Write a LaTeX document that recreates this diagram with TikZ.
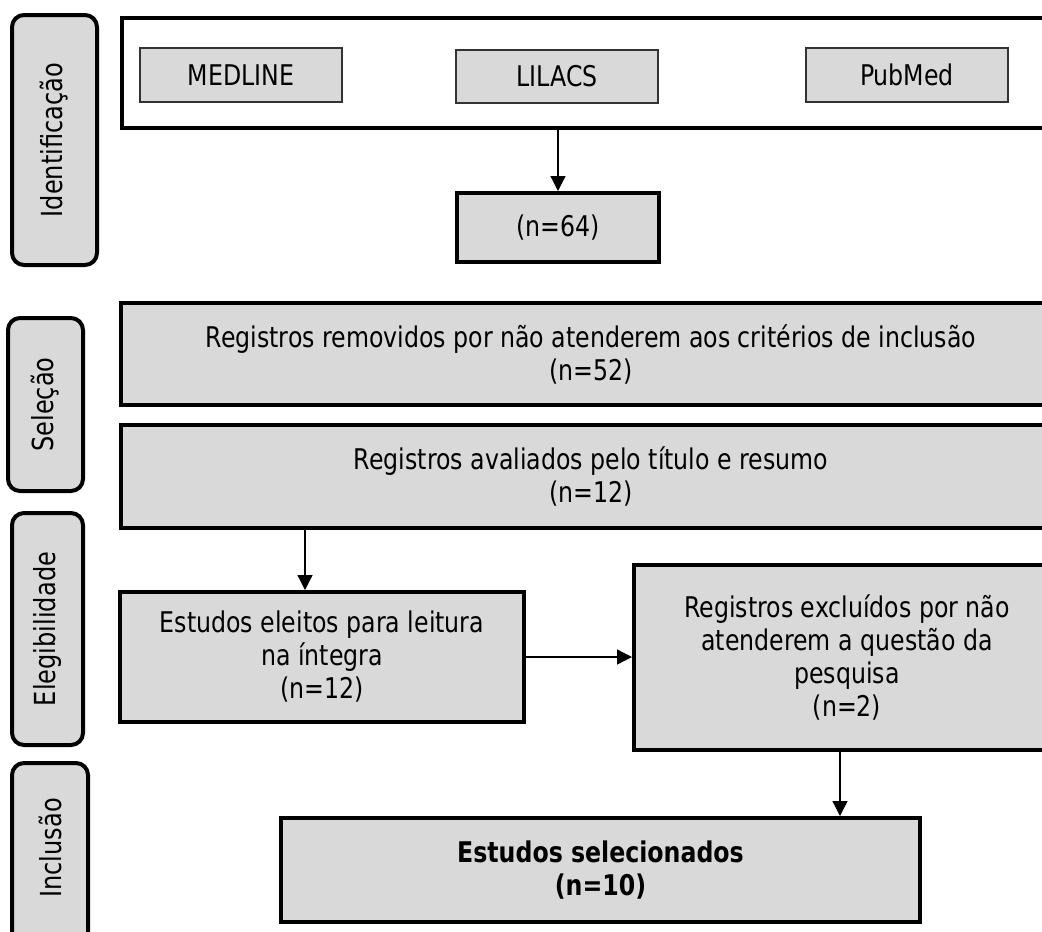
\documentclass[tikz,border=0pt]{standalone}
\usepackage{fontspec}
\setmainfont{DejaVu Sans}[FakeStretch=0.83]
\usetikzlibrary{arrows.meta}
\definecolor{boxgrey}{HTML}{D9D9D9}
\begin{document}
\begin{tikzpicture}[x=1pt,y=-1pt,
  bigbox/.style={draw=black,line width=4pt,fill=boxgrey,inner sep=0pt,align=center,font=\fontsize{28.5}{33}\selectfont},
  dbbox/.style={draw=black!80,line width=1.3pt,fill=boxgrey,inner sep=0pt,align=center,font=\fontsize{28.5}{33}\selectfont},
  sidebox/.style={draw=black,line width=4pt,fill=boxgrey,rounded corners=12pt,inner sep=0pt},
  sidetext/.style={rotate=90,font=\fontsize{29}{30}\selectfont},
  arr/.style={line width=1.3pt,-{Triangle[length=15pt,width=15pt]}}]
\useasboundingbox (0,0) rectangle (1042,932);
\fill[white] (0,0) rectangle (1042,932);
% side labels
\node[sidebox,minimum width=85,minimum height=250] (sid) at (54.5,140) {};
\node[sidetext] at (sid.center) {Identificação};
\node[sidebox,minimum width=75,minimum height=173] (ssel) at (45.5,404.5) {};
\node[sidetext] at (ssel.center) {Seleção};
\node[sidebox,minimum width=71,minimum height=232] (sele) at (47.5,629) {};
\node[sidetext] at (sele.center) {Elegibilidade};
\node[sidebox,minimum width=76,minimum height=200] (sinc) at (50,863) {};
\node[sidetext] at (50,848) {Inclusão};
% top container
\node[draw=black,line width=4pt,fill=white,minimum width=940,minimum height=110,inner sep=0pt] (top) at (592,73) {};
\node[dbbox,minimum width=202,minimum height=54] (medline) at (241,75) {MEDLINE};
\node[dbbox,minimum width=202,minimum height=53] (lilacs) at (557,76.5) {LILACS};
\node[dbbox,minimum width=202,minimum height=54] (pubmed) at (907,75) {PubMed};
\node[bigbox,minimum width=202,minimum height=69] (n64) at (558,227.5) {(n=64)};
% selection
\node[bigbox,minimum width=940,minimum height=102] (rem) at (591,354) {Registros removidos por não atenderem aos critérios de inclusão\\(n=52)};
\node[bigbox,minimum width=940,minimum height=103] (aval) at (591,476.5) {Registros avaliados pelo título e resumo\\(n=12)};
% eligibility
\node[bigbox,minimum width=404,minimum height=130] (eleit) at (322,657) {Estudos eleitos para leitura\\na íntegra\\(n=12)};
\node[bigbox,minimum width=426,minimum height=185] (excl) at (847,657.5) {Registros excluídos por não\\atenderem a questão da\\pesquisa\\(n=2)};
% inclusion
\node[bigbox,minimum width=639,minimum height=104] (sel) at (600.5,870) {\textbf{Estudos selecionados}\\\textbf{(n=10)}};
% arrows
\draw[arr] (top.south -| n64.north) -- (n64.north);
\draw[arr] (aval.south -| 305,0) -- (eleit.north -| 305,0);
\draw[arr] (eleit.east) -- (excl.west |- eleit.east);
\draw[arr] (excl.south -| 840,0) -- (sel.north -| 840,0);
\end{tikzpicture}
\end{document}
